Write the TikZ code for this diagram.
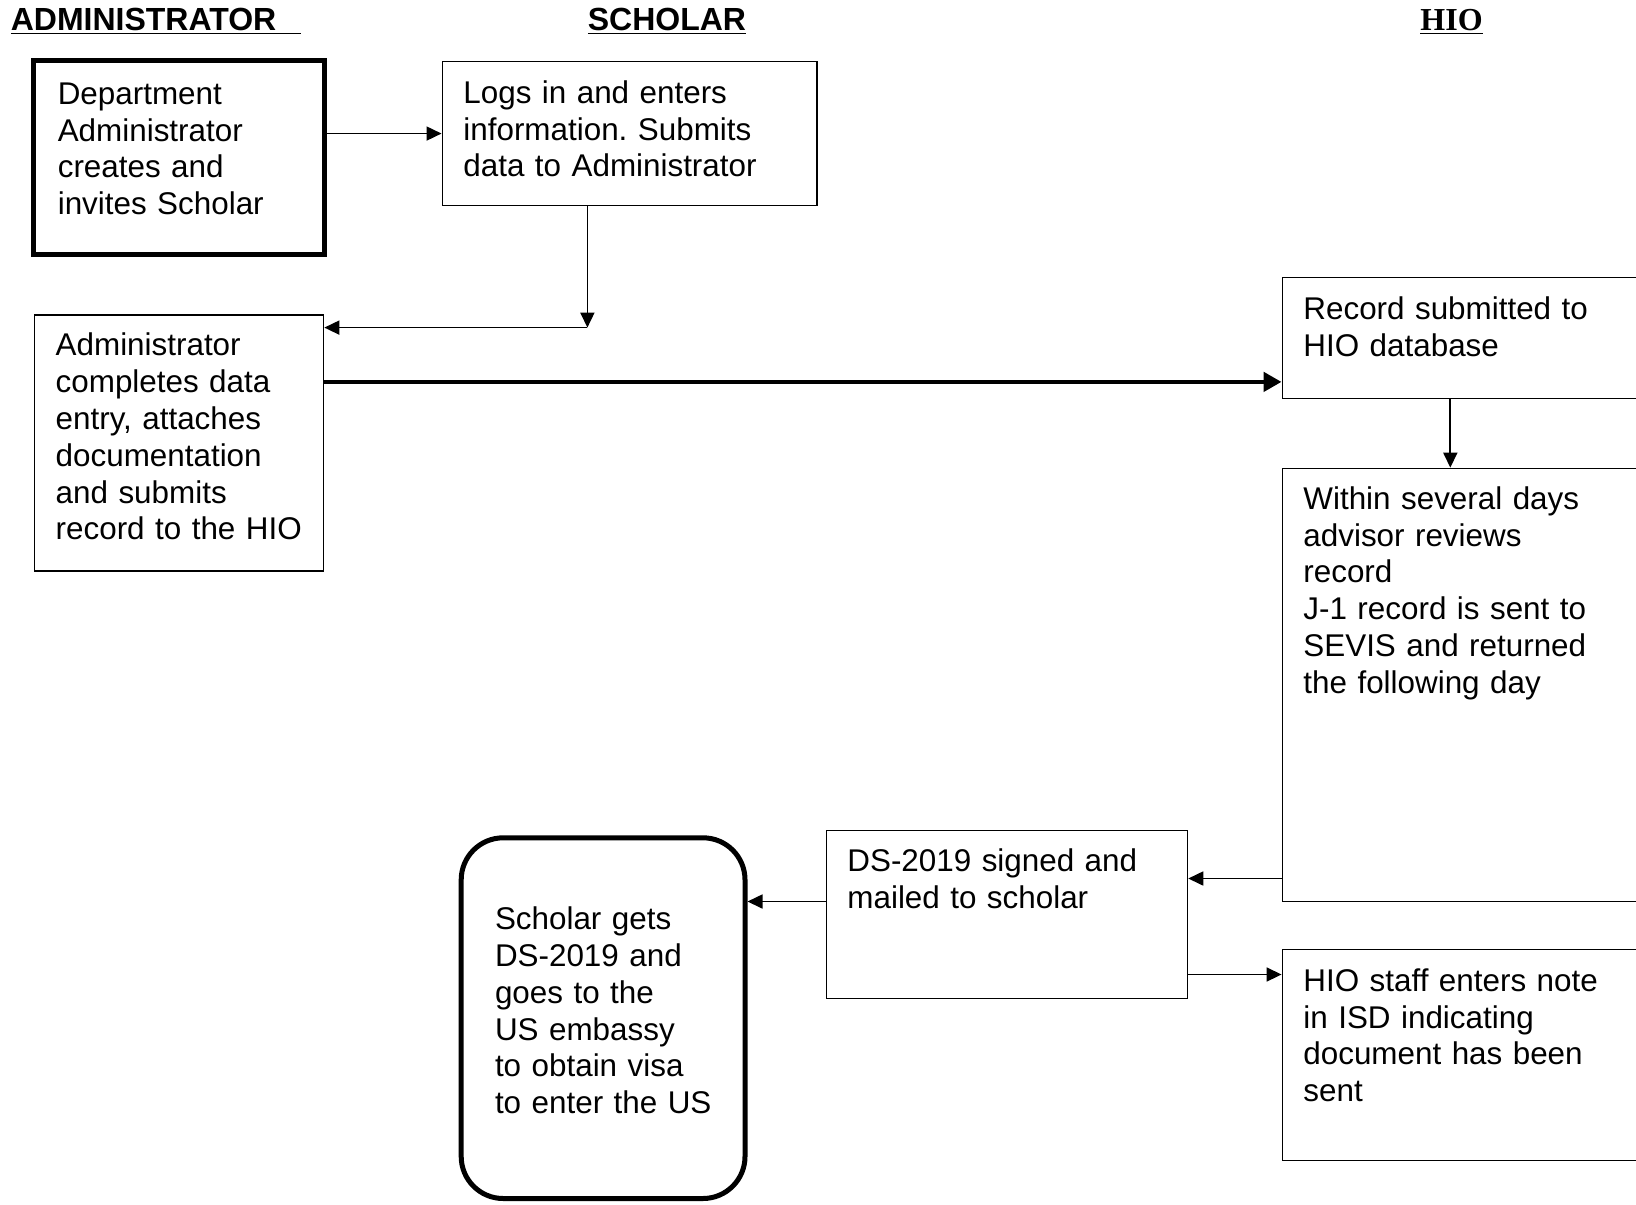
\documentclass[tikz,border=0pt]{standalone}
\usepackage{fontspec}
\setmainfont{Liberation Sans}
\newfontfamily\serifhead{Liberation Serif}
\usetikzlibrary{arrows.meta,fit}
\frenchspacing
\begin{document}
\begin{tikzpicture}[x=0.5pt,y=-0.5pt,
  every node/.style={font=\fontsize{15.7}{18.4}\selectfont},
  box/.style={draw, line width=0.85pt, inner sep=0pt},
  thickbox/.style={draw, line width=2.5pt, inner sep=0pt},
  roundbox/.style={draw, line width=2.5pt, inner sep=0pt, rounded corners=21pt},
  txt/.style={anchor=base west, inner sep=0pt, text width=200pt, align=left},
  head/.style={anchor=base west, inner sep=0pt, font=\fontsize{16}{18.4}\selectfont\bfseries},
  arr/.style={line width=0.85pt, -{Triangle[length=7.5pt,width=7pt]}},
  thickarr/.style={line width=2.3pt, -{Triangle[length=9pt,width=9.5pt]}}]
\useasboundingbox (0,0) rectangle (1636,1204);
\clip (0,0) rectangle (1636,1204);
\fill[white] (0,0) rectangle (1636,1204);

% headings
\node[head] (hadmin) at (10.4,30.3) {\underline{ADMINISTRATOR\hspace{12.5pt}}};
\node[head] (hscholar) at (587.4,30.3) {\underline{SCHOLAR}};
\node[head] (hhio) at (1420,30.3) {\serifhead\bfseries\underline{HIO}};

% boxes
\node[thickbox, fit={(33.4,60.5) (324.5,254.6)}] (b1) {};
\node[box, fit={(442.4,61.6) (817,205.5)}] (b2) {};
\node[box, fit={(34.4,315) (323.5,570.7)}] (b3) {};
\node[box, fit={(1282.4,277.5) (1700,398.6)}] (b4) {};
\node[box, fit={(1282.4,468.5) (1700,901.5)}] (b5) {};
\node[box, fit={(826.4,830.5) (1187.4,998.5)}] (b6) {};
\node[roundbox, fit={(461.2,837.8) (745,1198.5)}] (b7) {};
\node[box, fit={(1282.4,949.5) (1700,1160.4)}] (b8) {};

% texts
\node[txt] (t1) at (57.4,104.3) {Department\\Administrator\\creates and\\invites Scholar};
\node[txt] (t2) at (463,103.3) {Logs in and enters\\information. Submits\\data to Administrator};
\node[txt] (t3) at (55.3,355.8) {Administrator\\completes data\\entry, attaches\\documentation\\and submits\\record to the HIO};
\node[txt] (t4) at (1303,319.3) {Record submitted to\\HIO database};
\node[txt] (t5) at (1303,509.2) {Within several days\\advisor reviews\\record\\J-1 record is sent to\\SEVIS and returned\\the following day};
\node[txt] (t6) at (847,871.2) {DS-2019 signed and\\mailed to scholar};
\node[txt] (t7) at (494.6,929.7) {Scholar gets\\DS-2019 and\\goes to the\\US embassy\\to obtain visa\\to enter the US};
\node[txt] (t8) at (1303,991.2) {HIO staff enters note\\in ISD indicating\\document has been\\sent};

% connectors
\draw[arr] (b2.west -| b1.east) -- (b2.west);
\coordinate (c1) at (587.4,327.6);
\draw[arr] (c1 |- b2.south) -- (c1);
\draw[arr] (c1) -- (c1 -| b3.east);
\coordinate (c2) at (0,381.9);
\draw[thickarr] (c2 -| b3.east) -- (c2 -| b4.west);
\coordinate (c3) at (1450.3,0);
\draw[arr] (c3 |- b4.south) -- (c3 |- b5.north);
\coordinate (c4) at (0,878.5);
\draw[arr] (c4 -| b5.west) -- (c4 -| b6.east);
\coordinate (c5) at (0,901.5);
\draw[arr] (c5 -| b6.west) -- (c5 -| b7.east);
\coordinate (c6) at (0,974.5);
\draw[arr] (c6 -| b6.east) -- (c6 -| b8.west);
\end{tikzpicture}
\end{document}
